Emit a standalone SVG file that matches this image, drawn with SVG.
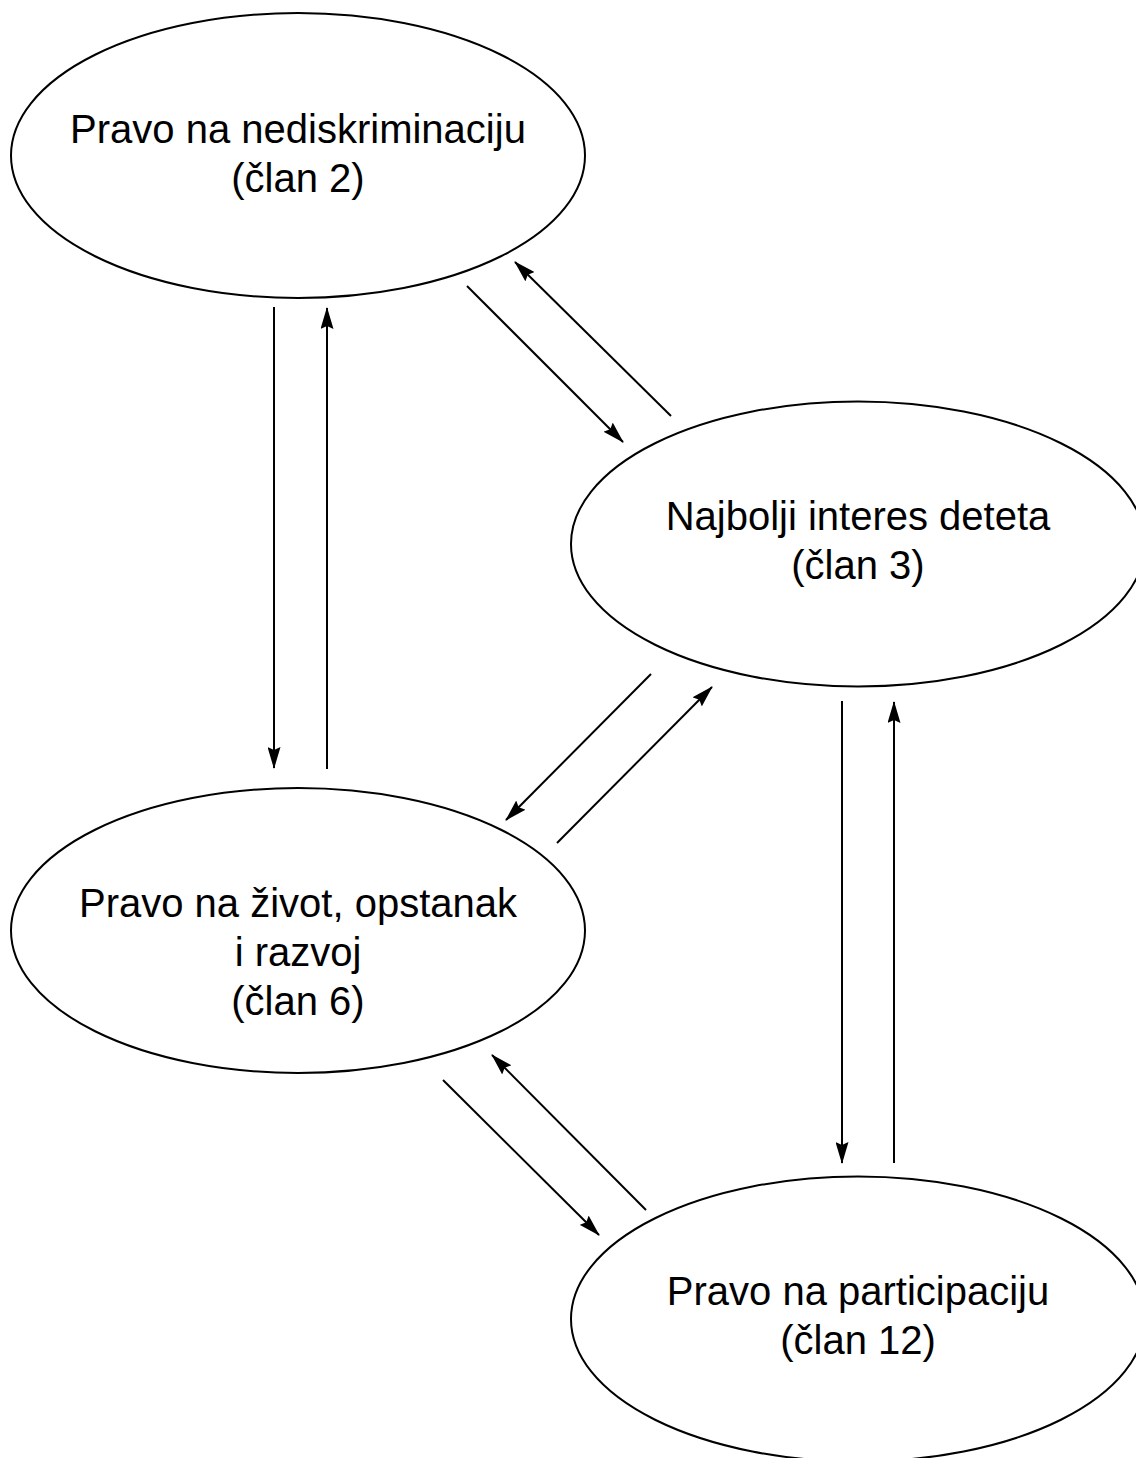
<svg xmlns="http://www.w3.org/2000/svg" width="1136" height="1458" viewBox="0 0 1136 1458">
  <style>
    .node { fill: #ffffff; stroke: #000000; stroke-width: 2; }
    .label { font-family: "Liberation Sans", Arial, Helvetica, sans-serif; font-size: 40px; fill: #000000; text-anchor: middle; }
    .link { stroke: #000000; stroke-width: 2; fill: none; marker-end: url(#ah); }
  </style>
  <defs>
    <!-- filled, slightly notched arrowhead shared by every connector -->
    <marker id="ah" viewBox="0 0 22 13" refX="21" refY="6.5" markerWidth="22" markerHeight="13" orient="auto" markerUnits="userSpaceOnUse">
      <path d="M0,0 L22,6.5 L0,13 L3,6.5 Z" fill="#000000"/>
    </marker>
  </defs>
  <rect width="1136" height="1458" fill="#ffffff"/>

  <g id="node-clan2">
    <ellipse class="node" cx="298" cy="155.5" rx="287" ry="142.5"/>
    <text class="label" x="298" y="143">Pravo na nediskriminaciju</text>
    <text class="label" x="298" y="192">(član 2)</text>
  </g>

  <g id="node-clan3">
    <ellipse class="node" cx="858" cy="544" rx="287" ry="142.5"/>
    <text class="label" x="858" y="530">Najbolji interes deteta</text>
    <text class="label" x="858" y="579">(član 3)</text>
  </g>

  <g id="node-clan6">
    <ellipse class="node" cx="298" cy="930.5" rx="287" ry="142.5"/>
    <text class="label" x="298" y="917">Pravo na život, opstanak</text>
    <text class="label" x="298" y="966">i razvoj</text>
    <text class="label" x="298" y="1015">(član 6)</text>
  </g>

  <g id="node-clan12">
    <ellipse class="node" cx="858" cy="1319" rx="287" ry="142.5"/>
    <text class="label" x="858" y="1305">Pravo na participaciju</text>
    <text class="label" x="858" y="1354">(član 12)</text>
  </g>

  <g id="connectors">
    <!-- član 2 <-> član 6 -->
    <line class="link" x1="274" y1="307" x2="274" y2="768"/>
    <line class="link" x1="327" y1="769" x2="327" y2="308"/>
    <!-- član 2 <-> član 3 -->
    <line class="link" x1="467" y1="286" x2="623" y2="442"/>
    <line class="link" x1="671" y1="416" x2="515" y2="262"/>
    <!-- član 3 <-> član 6 -->
    <line class="link" x1="651" y1="674" x2="506" y2="820"/>
    <line class="link" x1="557" y1="843" x2="712" y2="687"/>
    <!-- član 3 <-> član 12 -->
    <line class="link" x1="842" y1="701" x2="842" y2="1163"/>
    <line class="link" x1="894" y1="1163" x2="894" y2="702"/>
    <!-- član 6 <-> član 12 -->
    <line class="link" x1="443" y1="1080" x2="599" y2="1235"/>
    <line class="link" x1="646" y1="1210" x2="492" y2="1055"/>
  </g>
</svg>
